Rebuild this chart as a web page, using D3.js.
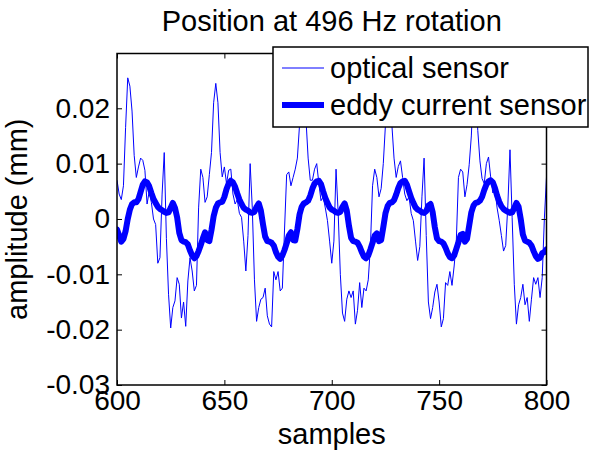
<!DOCTYPE html>
<html>
<head>
<meta charset="utf-8">
<script src="https://cdn.jsdelivr.net/npm/d3@7"></script>
<style>
  body { margin: 0; background: #fff; }
  svg text { font-family: "Liberation Sans", Arial, sans-serif; fill: #000; }
</style>
</head>
<body>
<div id="chart"></div>
<script>
// samples 600..800, one value per sample
const startSample = 600;

const opticalSensor = [
  0.0070, 0.0045, 0.0035, 0.0060, 0.0165, 0.0255, 0.0240, 0.0195, 0.0115, 0.0075,
  0.0094, 0.0110, 0.0106, 0.0088, 0.0027, 0.0050, 0.0030, 0.0000, -0.0010, -0.0080,
  -0.0070, 0.0045, 0.0120, -0.0035, -0.0136, -0.0197, -0.0160, -0.0148, -0.0106, -0.0118,
  -0.0179, -0.0150, -0.0194, -0.0112, -0.0070, -0.0094, -0.0130, -0.0120, 0.0020, 0.0090,
  0.0075, 0.0030, 0.0040, 0.0080, 0.0120, 0.0210, 0.0245, 0.0210, 0.0120, 0.0076,
  0.0094, 0.0064, 0.0088, 0.0090, 0.0045, 0.0027, 0.0035, 0.0010, 0.0003, -0.0040,
  -0.0094, -0.0030, 0.0100, 0.0020, -0.0110, -0.0185, -0.0160, -0.0145, -0.0142, -0.0125,
  -0.0175, -0.0190, -0.0195, -0.0095, -0.0110, -0.0095, -0.0130, -0.0125, -0.0020, 0.0080,
  0.0085, 0.0060, 0.0075, 0.0090, 0.0110, 0.0170, 0.0240, 0.0250, 0.0180, 0.0110,
  0.0070, 0.0070, 0.0090, 0.0100, 0.0064, 0.0033, 0.0040, 0.0020, -0.0003, -0.0040,
  -0.0080, -0.0040, 0.0090, 0.0010, -0.0100, -0.0170, -0.0185, -0.0145, -0.0130, -0.0142,
  -0.0130, -0.0190, -0.0165, -0.0115, -0.0160, -0.0125, -0.0130, -0.0110, -0.0050, 0.0060,
  0.0090, 0.0075, 0.0040, 0.0055, 0.0100, 0.0170, 0.0240, 0.0260, 0.0170, 0.0110,
  0.0075, 0.0095, 0.0105, 0.0075, 0.0045, 0.0033, 0.0040, 0.0010, -0.0003, -0.0040,
  -0.0075, -0.0050, 0.0040, 0.0110, -0.0030, -0.0150, -0.0180, -0.0160, -0.0132, -0.0118,
  -0.0150, -0.0195, -0.0180, -0.0115, -0.0120, -0.0095, -0.0120, -0.0085, -0.0040, 0.0075,
  0.0090, 0.0085, 0.0040, 0.0062, 0.0098, 0.0150, 0.0240, 0.0250, 0.0160, 0.0105,
  0.0073, 0.0064, 0.0100, 0.0112, 0.0076, 0.0047, 0.0053, 0.0020, -0.0003, -0.0030,
  -0.0058, -0.0048, 0.0025, 0.0125, 0.0003, -0.0118, -0.0190, -0.0155, -0.0142, -0.0118,
  -0.0155, -0.0142, -0.0185, -0.0145, -0.0106, -0.0118, -0.0106, -0.0142, -0.0106, 0.0000,
  0.0076
];

const eddyCurrentSensor = [
  -0.0019, -0.0030, -0.0041, -0.0036, -0.0022, 0.0000, 0.0017, 0.0027, 0.0030, 0.0030,
  0.0036, 0.0049, 0.0062, 0.0068, 0.0066, 0.0059, 0.0047, 0.0036, 0.0029, 0.0022,
  0.0018, 0.0016, 0.0013, 0.0011, 0.0012, 0.0020, 0.0029, 0.0020, 0.0003, -0.0025,
  -0.0038, -0.0041, -0.0042, -0.0046, -0.0057, -0.0066, -0.0071, -0.0067, -0.0058, -0.0047,
  -0.0035, -0.0024, -0.0038, -0.0040, -0.0020, 0.0005, 0.0020, 0.0028, 0.0030, 0.0031,
  0.0040, 0.0054, 0.0064, 0.0069, 0.0066, 0.0058, 0.0046, 0.0035, 0.0027, 0.0020,
  0.0017, 0.0015, 0.0012, 0.0011, 0.0013, 0.0022, 0.0028, 0.0015, -0.0010, -0.0032,
  -0.0040, -0.0041, -0.0043, -0.0048, -0.0060, -0.0068, -0.0072, -0.0066, -0.0056, -0.0044,
  -0.0030, -0.0024, -0.0038, -0.0039, -0.0018, 0.0008, 0.0022, 0.0028, 0.0030, 0.0033,
  0.0042, 0.0055, 0.0064, 0.0068, 0.0069, 0.0063, 0.0050, 0.0038, 0.0029, 0.0021,
  0.0017, 0.0015, 0.0012, 0.0011, 0.0013, 0.0022, 0.0028, 0.0015, -0.0012, -0.0034,
  -0.0040, -0.0041, -0.0043, -0.0050, -0.0060, -0.0068, -0.0071, -0.0066, -0.0055, -0.0043,
  -0.0030, -0.0026, -0.0040, -0.0038, -0.0015, 0.0010, 0.0023, 0.0029, 0.0030, 0.0034,
  0.0044, 0.0056, 0.0065, 0.0068, 0.0069, 0.0062, 0.0050, 0.0038, 0.0029, 0.0021,
  0.0017, 0.0015, 0.0012, 0.0011, 0.0014, 0.0024, 0.0027, 0.0012, -0.0015, -0.0035,
  -0.0040, -0.0041, -0.0044, -0.0052, -0.0062, -0.0069, -0.0071, -0.0066, -0.0054, -0.0042,
  -0.0029, -0.0027, -0.0041, -0.0036, -0.0012, 0.0012, 0.0024, 0.0029, 0.0030, 0.0033,
  0.0040, 0.0052, 0.0062, 0.0068, 0.0070, 0.0066, 0.0056, 0.0042, 0.0031, 0.0023,
  0.0018, 0.0015, 0.0013, 0.0011, 0.0012, 0.0020, 0.0029, 0.0022, 0.0000, -0.0028,
  -0.0039, -0.0041, -0.0043, -0.0048, -0.0058, -0.0067, -0.0072, -0.0070, -0.0062, -0.0060,
  -0.0055
];

const xTicks = [600, 650, 700, 750, 800];
const yTicks = [-0.03, -0.02, -0.01, 0, 0.01, 0.02];
const yTickLabels = ['-0.03', '-0.02', '-0.01', '0', '0.01', '0.02'];
const seriesNames = ['optical sensor', 'eddy current sensor'];

const config = {
  width: 594,
  height: 452,
  margin: {top: 53.5, right: 47.5, bottom: 67, left: 117},
  tickFontSize: 28,
  labelFontSize: 29,
  color: '#0000ff'
};
config.innerWidth = config.width - config.margin.left - config.margin.right;
config.innerHeight = config.height - config.margin.top - config.margin.bottom;

const svg = d3.select('#chart').append('svg')
    .attr('width', config.width)
    .attr('height', config.height);

const chart = svg.append('g')
    .attr('transform', `translate(${config.margin.left},${config.margin.top})`);

// Scales
const xScale = d3.scaleLinear()
    .domain([600, 800])
    .range([0, config.innerWidth]);

const yScale = d3.scaleLinear()
    .domain([-0.03, 0.0299])
    .range([config.innerHeight, 0]);

// Clip lines to the axes box
svg.append('defs').append('clipPath')
    .attr('id', 'plot-clip')
  .append('rect')
    .attr('width', config.innerWidth)
    .attr('height', config.innerHeight);

const line = d3.line()
    .x((d, i) => xScale(startSample + i))
    .y(d => yScale(d));

const plot = chart.append('g').attr('clip-path', 'url(#plot-clip)');

plot.append('path')
    .datum(opticalSensor)
    .attr('fill', 'none')
    .attr('stroke', config.color)
    .attr('stroke-width', 1)
    .attr('d', line);

plot.append('path')
    .datum(eddyCurrentSensor)
    .attr('fill', 'none')
    .attr('stroke', config.color)
    .attr('stroke-width', 6)
    .attr('stroke-linejoin', 'round')
    .attr('stroke-linecap', 'round')
    .attr('d', line);

// Axes, ticks pointing inwards (matlab style)
const tickLen = 5;
const styleAxis = g => {
  g.select('.domain').remove();
  g.selectAll('.tick line').attr('stroke', '#000');
  g.selectAll('.tick text')
      .style('font-size', config.tickFontSize + 'px')
      .attr('fill', '#000');
};

chart.append('g')
    .attr('transform', `translate(0,${config.innerHeight})`)
    .call(d3.axisBottom(xScale).tickValues(xTicks).tickSizeInner(-tickLen).tickSizeOuter(0).tickPadding(5))
    .call(styleAxis);

chart.append('g')
    .call(d3.axisTop(xScale).tickValues(xTicks).tickSizeInner(-tickLen).tickSizeOuter(0).tickFormat(''))
    .call(styleAxis);

chart.append('g')
    .call(d3.axisLeft(yScale).tickValues(yTicks).tickSizeInner(-tickLen).tickSizeOuter(0).tickPadding(7)
        .tickFormat((d, i) => yTickLabels[i]))
    .call(styleAxis);

chart.append('g')
    .attr('transform', `translate(${config.innerWidth},0)`)
    .call(d3.axisRight(yScale).tickValues(yTicks).tickSizeInner(-tickLen).tickSizeOuter(0).tickFormat(''))
    .call(styleAxis);

// Axes box
chart.append('rect')
    .attr('width', config.innerWidth)
    .attr('height', config.innerHeight)
    .attr('fill', 'none')
    .attr('stroke', '#000')
    .attr('stroke-width', 1.5);

// Title and axis labels
svg.append('text')
    .attr('x', config.margin.left + config.innerWidth / 2)
    .attr('y', 31)
    .attr('text-anchor', 'middle')
    .style('font-size', config.labelFontSize + 'px')
    .text('Position at 496 Hz rotation');

svg.append('text')
    .attr('x', config.margin.left + config.innerWidth / 2)
    .attr('y', 444)
    .attr('text-anchor', 'middle')
    .style('font-size', config.labelFontSize + 'px')
    .text('samples');

svg.append('text')
    .attr('transform', `translate(27,${config.margin.top + config.innerHeight / 2}) rotate(-90)`)
    .attr('text-anchor', 'middle')
    .style('font-size', config.labelFontSize + 'px')
    .text('amplitude (mm)');

// Legend
const legend = svg.append('g').attr('transform', 'translate(273,47)');

legend.append('rect')
    .attr('width', 315)
    .attr('height', 80)
    .attr('fill', '#fff')
    .attr('stroke', '#000')
    .attr('stroke-width', 1.5);

const legendRows = legend.selectAll('.legend-row')
    .data(seriesNames)
  .enter().append('g')
    .attr('class', 'legend-row')
    .attr('transform', (d, i) => `translate(0,${21 + i * 37})`);

legendRows.append('line')
    .attr('x1', 9)
    .attr('x2', 51)
    .attr('stroke', config.color)
    .attr('stroke-width', (d, i) => i === 0 ? 1 : 6);

legendRows.append('text')
    .attr('x', 57)
    .attr('dy', '0.35em')
    .style('font-size', config.labelFontSize + 'px')
    .text(d => d);
</script>
</body>
</html>
